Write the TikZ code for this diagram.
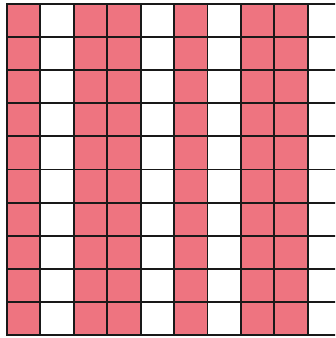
\documentclass[tikz,border=0pt]{standalone}
\usepackage{xcolor}
\definecolor{cellpink}{HTML}{EE7480}

\begin{document}
\begin{tikzpicture}[x=1cm,y=-0.991cm, pinkcell/.style={fill=cellpink}, gridline/.style={draw=black!90,line width=1.6pt,line cap=rect}]
\useasboundingbox (-0.21,-0.12) rectangle (9.82,10.09);
\clip (-0.21,-0.12) rectangle (9.82,10.09);
% coloured columns
\foreach \c in {0,2,3,5,7,8} \fill[pinkcell] (\c,0) rectangle ++(1,10);
% grid lines
\foreach \r in {0,...,10} \draw[gridline] (0,\r) -- (10,\r);
\foreach \c in {0,...,10} \draw[gridline] (\c,0) -- (\c,10);
\end{tikzpicture}
\end{document}
